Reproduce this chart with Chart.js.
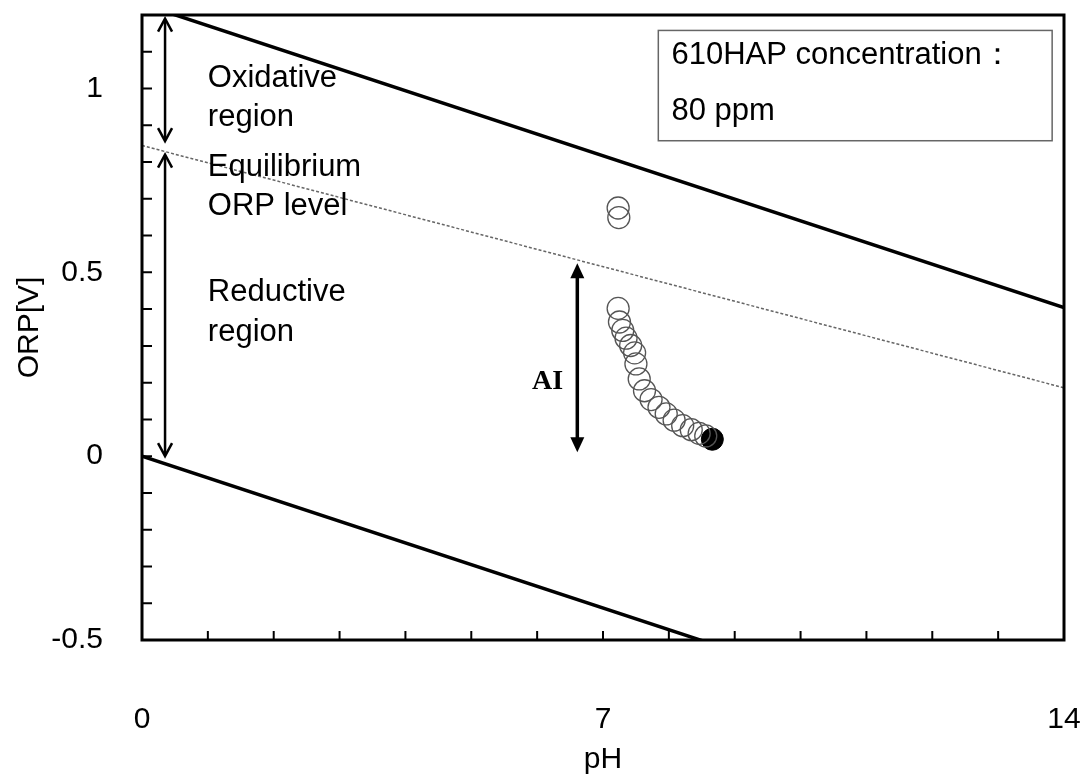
<!DOCTYPE html>
<html>
<head>
<meta charset="utf-8">
<title>ORP vs pH</title>
<script src="https://cdn.jsdelivr.net/npm/chart.js@4.4.1/dist/chart.umd.min.js"></script>
<style>
  body { margin: 0; background: #fff; }
</style>
</head>
<body>
<canvas id="myChart" width="1091" height="780"></canvas>
<script>
// measured points (open circles)
const phValues = [7.23, 7.24, 7.23, 7.25, 7.30, 7.35, 7.42, 7.48, 7.50, 7.55, 7.63, 7.73, 7.85, 7.96, 8.08, 8.21, 8.34, 8.46, 8.56];
const orpValues = [0.675, 0.649, 0.402, 0.365, 0.342, 0.321, 0.301, 0.281, 0.251, 0.210, 0.178, 0.154, 0.133, 0.115, 0.098, 0.083, 0.072, 0.062, 0.055];
// last point (filled)
const finalPH = [8.66];
const finalORP = [0.046];

// reference lines
const linePH = [0, 14];
const upperLineORP = [1.23, 0.404];
const lowerLineORP = [0, -0.826];
const equilibriumORP = [0.845, 0.186];

const xTickLabels = [0, 7, 14];
const yTickLabels = [-0.5, 0, 0.5, 1];
const xMinorTicks = [1, 2, 3, 4, 5, 6, 7, 8, 9, 10, 11, 12, 13];
const yMinorTicks = [-0.4, -0.3, -0.2, -0.1, 0, 0.1, 0.2, 0.3, 0.4, 0.5, 0.6, 0.7, 0.8, 0.9, 1.0, 1.1];

const font = "'Liberation Sans', Arial, sans-serif";

function toXY(xs, ys) {
  return xs.map((x, i) => ({ x: x, y: ys[i] }));
}

// text and arrows, placed in data units (pH, ORP)
const notes = [
  { text: 'Oxidative', x: 1.0, y: 1.003 },
  { text: 'region', x: 1.0, y: 0.899 },
  { text: 'Equilibrium', x: 1.0, y: 0.762 },
  { text: 'ORP level', x: 1.0, y: 0.656 },
  { text: 'Reductive', x: 1.0, y: 0.421 },
  { text: 'region', x: 1.0, y: 0.314 },
  { text: '610HAP concentration：', x: 8.04, y: 1.066 },
  { text: '80 ppm', x: 8.04, y: 0.915 }
];
const arrows = [
  { x: 0.35, from: 1.19, to: 0.857, head: 'open' },
  { x: 0.35, from: 0.82, to: 0.0, head: 'open' },
  { x: 6.61, from: 0.525, to: 0.011, head: 'filled' }
];
const noteBox = { x1: 7.84, x2: 13.82, y1: 1.158, y2: 0.858 };

function arrowHead(ctx, x, y, dir, filled) {
  // dir = -1 points up, 1 points down
  const len = filled ? 15 : 13;
  const half = 7;
  ctx.beginPath();
  ctx.moveTo(x - half, y - dir * len);
  ctx.lineTo(x, y);
  ctx.lineTo(x + half, y - dir * len);
  if (filled) {
    ctx.closePath();
    ctx.fill();
  } else {
    ctx.stroke();
  }
}

const extras = {
  id: 'extras',
  afterDraw(chart) {
    const ctx = chart.ctx;
    const xs = chart.scales.x;
    const ys = chart.scales.y;
    const a = chart.chartArea;
    ctx.save();

    // inner tick marks
    ctx.strokeStyle = '#000';
    ctx.lineWidth = 2;
    ctx.beginPath();
    xMinorTicks.forEach(v => {
      const px = xs.getPixelForValue(v);
      ctx.moveTo(px, a.bottom);
      ctx.lineTo(px, a.bottom - 9);
    });
    yMinorTicks.forEach(v => {
      const py = ys.getPixelForValue(v);
      ctx.moveTo(a.left, py);
      ctx.lineTo(a.left + 10, py);
    });
    ctx.stroke();

    // frame
    ctx.lineWidth = 3;
    ctx.strokeRect(a.left, a.top, a.right - a.left, a.bottom - a.top);

    // note box
    ctx.strokeStyle = '#666';
    ctx.lineWidth = 1.5;
    const bx = xs.getPixelForValue(noteBox.x1);
    const by = ys.getPixelForValue(noteBox.y1);
    ctx.strokeRect(bx, by, xs.getPixelForValue(noteBox.x2) - bx, ys.getPixelForValue(noteBox.y2) - by);

    // texts
    ctx.fillStyle = '#000';
    ctx.font = '31px ' + font;
    ctx.textAlign = 'left';
    ctx.textBaseline = 'alphabetic';
    notes.forEach(n => {
      ctx.fillText(n.text, xs.getPixelForValue(n.x), ys.getPixelForValue(n.y));
    });
    ctx.font = "bold 28px 'Liberation Serif', 'Times New Roman', serif";
    ctx.textAlign = 'center';
    ctx.textBaseline = 'middle';
    ctx.fillText('AI', xs.getPixelForValue(6.16), ys.getPixelForValue(0.202));

    // arrows
    ctx.strokeStyle = '#000';
    arrows.forEach(ar => {
      const px = xs.getPixelForValue(ar.x);
      const top = ys.getPixelForValue(ar.from);
      const bottom = ys.getPixelForValue(ar.to);
      const filled = ar.head === 'filled';
      ctx.lineWidth = filled ? 3.5 : 2.5;
      ctx.beginPath();
      ctx.moveTo(px, top + (filled ? 8 : 1));
      ctx.lineTo(px, bottom - (filled ? 8 : 1));
      ctx.stroke();
      arrowHead(ctx, px, top, -1, filled);
      arrowHead(ctx, px, bottom, 1, filled);
    });
    ctx.restore();
  }
};

const ctx = document.getElementById('myChart');

new Chart(ctx, {
  type: 'scatter',
  data: {
    datasets: [
      {
        label: 'upper',
        data: toXY(linePH, upperLineORP),
        showLine: true,
        borderColor: '#000',
        borderWidth: 3.5,
        pointRadius: 0
      },
      {
        label: 'lower',
        data: toXY(linePH, lowerLineORP),
        showLine: true,
        borderColor: '#000',
        borderWidth: 3.5,
        pointRadius: 0
      },
      {
        label: 'equilibrium',
        data: toXY(linePH, equilibriumORP),
        showLine: true,
        borderColor: '#666',
        borderWidth: 1.5,
        borderDash: [3, 2],
        pointRadius: 0
      },
      {
        label: 'ORP',
        data: toXY(phValues, orpValues),
        pointRadius: 11,
        pointBorderWidth: 1.3,
        pointBorderColor: '#555',
        pointBackgroundColor: 'rgba(0,0,0,0)'
      },
      {
        label: 'final',
        data: toXY(finalPH, finalORP),
        pointRadius: 11,
        pointBorderWidth: 1,
        pointBorderColor: '#000',
        pointBackgroundColor: '#000'
      }
    ]
  },
  options: {
    responsive: false,
    animation: false,
    layout: { padding: { left: 0, top: 15, right: 27, bottom: 0 } },
    plugins: {
      legend: { display: false },
      tooltip: { enabled: false }
    },
    scales: {
      x: {
        type: 'linear',
        min: 0,
        max: 14,
        afterBuildTicks: s => { s.ticks = xTickLabels.map(v => ({ value: v })); },
        afterFit: s => {
          s.height = 140;
          s.paddingLeft = 0;
          s.paddingRight = 0;
        },
        grid: { display: false, drawTicks: false },
        border: { display: false },
        ticks: {
          color: '#000',
          padding: 62,
          autoSkip: false,
          maxRotation: 0,
          font: { family: font, size: 30 },
          callback: v => String(v)
        },
        title: {
          display: true,
          text: 'pH',
          color: '#000',
          padding: { top: 0, bottom: 2 },
          font: { family: font, size: 30 }
        }
      },
      y: {
        type: 'linear',
        min: -0.5,
        max: 1.2,
        afterBuildTicks: s => { s.ticks = yTickLabels.map(v => ({ value: v })); },
        afterFit: s => {
          s.width = 142;
          s.paddingTop = 0;
          s.paddingBottom = 0;
        },
        grid: { display: false, drawTicks: false },
        border: { display: false },
        ticks: {
          color: '#000',
          padding: 39,
          font: { family: font, size: 30 },
          callback: v => String(v)
        },
        title: {
          display: true,
          text: 'ORP[V]',
          color: '#000',
          padding: { top: 12, bottom: 0 },
          font: { family: font, size: 30 }
        }
      }
    }
  },
  plugins: [extras]
});
</script>
</body>
</html>
